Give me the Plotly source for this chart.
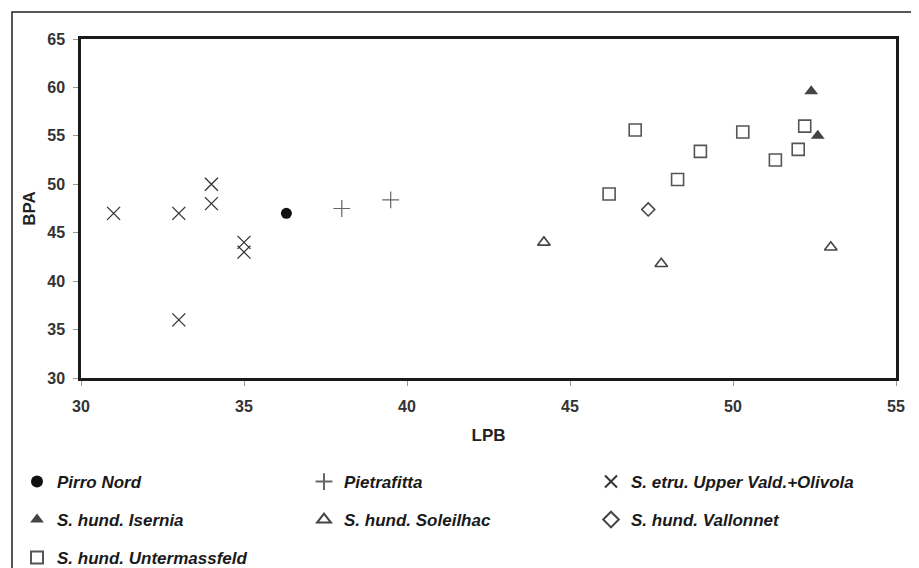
import plotly.graph_objects as go

# ---- data ----
pirro_x = [36.3]
pirro_y = [47.0]
pietra_x = [38.0, 39.5]
pietra_y = [47.5, 48.4]
etru_x = [31, 33, 34, 34, 35, 35, 33]
etru_y = [47, 47, 50, 48, 44, 43, 36]
isernia_x = [52.4, 52.6]
isernia_y = [59.6, 55.0]
soleil_x = [44.2, 47.8, 53.0]
soleil_y = [44.0, 41.8, 43.5]
vallon_x = [47.4]
vallon_y = [47.4]
unter_x = [47.0, 50.3, 52.2, 52.0, 51.3, 49.0, 48.3, 46.2]
unter_y = [55.6, 55.4, 56.0, 53.6, 52.5, 53.4, 50.5, 49.0]
x_ticks = [30, 35, 40, 45, 50, 55]
y_ticks = [30, 35, 40, 45, 50, 55, 60, 65]

FONT = "Arial, 'Liberation Sans', sans-serif"

fig = go.Figure()

def add(x, y, name, symbol, size, color, lw, legend):
    fig.add_trace(go.Scatter(
        x=x, y=y, mode="markers", name=name, legend=legend,
        marker=dict(symbol=symbol, size=size, color=color,
                    line=dict(color=color, width=lw)),
    ))

add(pirro_x, pirro_y, "Pirro Nord", "circle", 11, "#111111", 0, "legend")
add(pietra_x, pietra_y, "Pietrafitta", "cross-thin-open", 12, "#666666", 1.2, "legend")
add(etru_x, etru_y, "S. etru. Upper Vald.+Olivola", "x-thin-open", 13, "#333333", 1.3, "legend")
add(isernia_x, isernia_y, "S. hund. Isernia", "triangle-up", 12, "#444444", 0, "legend2")
add(soleil_x, soleil_y, "S. hund. Soleilhac", "triangle-up-open", 11, "#444444", 1.6, "legend2")
add(vallon_x, vallon_y, "S. hund. Vallonnet", "diamond-open", 10, "#444444", 1.6, "legend2")
add(unter_x, unter_y, "S. hund. Untermassfeld", "square-open", 12, "#555555", 1.6, "legend3")

# page has an 8px body margin; figure is sized so the page is 919x568
OFF = 8
W, H = 919 - OFF, 568 - OFF
L, T = 81 - OFF, 39 - OFF
R, B = W - (896 - OFF), H - (378 - OFF)
pw, ph = W - L - R, H - T - B

def px_x(p):
    return (p - OFF - L) / pw

def px_y(p):
    return (H - B - (p - OFF)) / ph

legfont = dict(family=FONT, size=17, color="#1a1a1a", weight="bold", style="italic")
common = dict(orientation="h", xanchor="left", yanchor="middle", font=legfont,
              bgcolor="rgba(0,0,0,0)", entrywidthmode="pixels", entrywidth=242,
              itemsizing="constant", x=px_x(17))

axis_common = dict(
    showgrid=False, zeroline=False, showline=True, mirror=True,
    linecolor="#1a1a1a", linewidth=2.5, ticks="outside", ticklen=5,
    tickcolor="#999999", tickwidth=1,
    tickfont=dict(family=FONT, size=16, color="#333333", weight="bold"),
)
title_font = dict(family=FONT, size=17, color="#222222", weight="bold")

fig.update_layout(
    width=W, height=H,
    margin=dict(l=L, r=R, t=T, b=B, autoexpand=False),
    paper_bgcolor="white", plot_bgcolor="white",
    showlegend=True,
    legend=dict(y=px_y(482), **common),
    legend2=dict(y=px_y(520), **common),
    legend3=dict(y=px_y(558), **common),
    xaxis=dict(range=[30, 55], tickvals=x_ticks, ticklabelstandoff=7, **axis_common,
               title=dict(text="LPB", standoff=16, font=title_font)),
    yaxis=dict(range=[30, 65], tickvals=y_ticks, ticklabelstandoff=5, **axis_common,
               title=dict(text="BPA", standoff=8, font=title_font)),
    shapes=[dict(type="rect", xref="paper", yref="paper",
                 x0=px_x(12), x1=px_x(917), y0=px_y(12), y1=px_y(600),
                 line=dict(color="#222222", width=1.5), fillcolor="rgba(0,0,0,0)",
                 layer="below")],
)

fig.write_html("out.html")
